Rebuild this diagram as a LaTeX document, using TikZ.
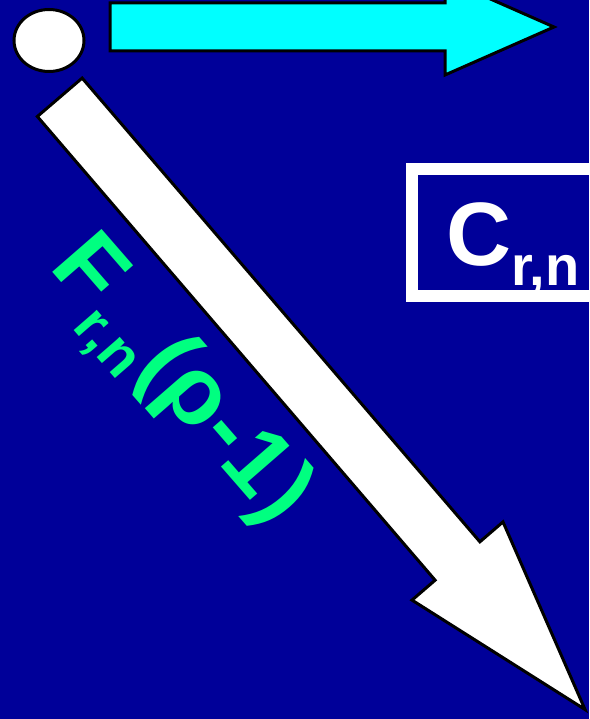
\documentclass[tikz,border=0pt]{standalone}
\usepackage{fontspec}
\setmainfont{Liberation Sans}
\definecolor{bg}{RGB}{0,0,153}
\definecolor{arrcyan}{RGB}{0,255,255}
\definecolor{lblgreen}{RGB}{0,255,128}
\begin{document}
\begin{tikzpicture}[x=1pt,y=-1pt,
  shapeline/.style={draw=black,line width=3pt,line join=miter},
  bigfont/.style={font=\fontsize{95}{95}\selectfont\bfseries},
  boxfont/.style={font=\fontsize{90}{90}\selectfont\bfseries}]
\useasboundingbox (0,0) rectangle (589,719);
\clip (0,0) rectangle (589,719);
\fill[bg] (0,0) rectangle (589,719);
% cyan arrow
\filldraw[shapeline, fill=arrcyan] (110,3) -- (445,3) -- (445,-21) -- (554,27) -- (445,75) -- (445,51) -- (110,51) -- cycle;
% white circle
\filldraw[shapeline, fill=white] (49,40.5) ellipse [x radius=35, y radius=31];
% white diagonal arrow
\coordinate (wa1) at (82.15,78.1);
\coordinate (wa2) at (479.9,541.8);
\coordinate (wa3) at (503.0,521.9);
\coordinate (wa4) at (585,709.5);
\coordinate (wa5) at (412.0,600.1);
\coordinate (wa6) at (435.1,580.2);
\coordinate (wa7) at (37.35,116.5);
\filldraw[shapeline, fill=white] (wa1) -- (wa2) -- (wa3) -- (wa4) -- (wa5) -- (wa6) -- (wa7) -- cycle;
% box
\draw[white, line width=12pt] (412,169) rectangle (640,296);
\node[anchor=base west, inner sep=0, text=white, boxfont] (crn) at (446,265)
  {C\raisebox{-20pt}{\fontsize{56}{56}\selectfont r,n}};
% green label
\node[anchor=base west, inner sep=0, text=lblgreen, bigfont, rotate=-49] (frn) at (48.3,267.6)
  {F\kern2pt\raisebox{-22pt}{\fontsize{58}{58}\selectfont r,n}\kern2pt(ρ\kern2pt-\kern1pt1\kern1pt)};
\end{tikzpicture}
\end{document}
